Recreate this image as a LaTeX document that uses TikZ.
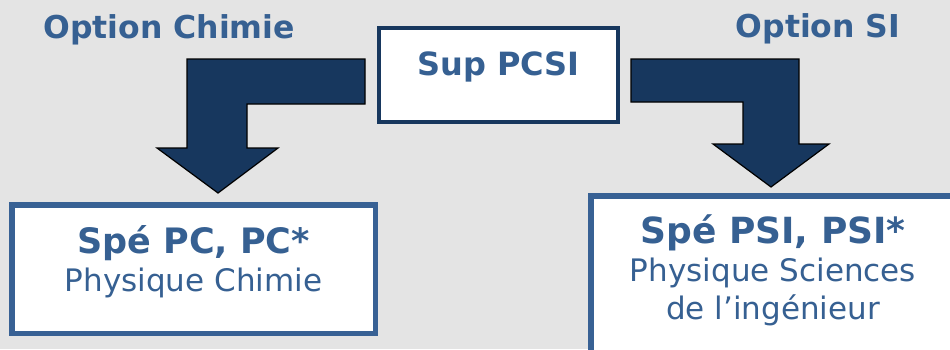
\documentclass[tikz,border=0pt]{standalone}
\usepackage{fontspec}
\setmainfont{DejaVu Sans}
\definecolor{navy}{HTML}{17375E}
\definecolor{boxblue}{HTML}{386194}
\definecolor{textblue}{HTML}{366092}
\definecolor{bggray}{HTML}{E4E4E4}
\begin{document}
\begin{tikzpicture}[x=1pt,y=-1pt]
    \tikzstyle{bigarrow} = [draw=black, line width=1.2pt, fill=navy, line join=miter]
    \tikzstyle{rec} = [rectangle, draw=boxblue, line width=5.5pt, fill=white,
        inner sep=0pt]
    \tikzstyle{txt} = [text=textblue, inner sep=0pt, align=center]

    \useasboundingbox (0,0) rectangle (950,349);
    \fill[bggray] (0,0) rectangle (950,349);

    \node(optchimie) [txt, font=\fontsize{31.5}{38}\selectfont\bfseries]
        at (169,38) [anchor=base]
        {Option Chimie};
    \node(optsi) [txt, font=\fontsize{31.5}{38}\selectfont\bfseries]
        at (818,37) [anchor=base]
        {Option SI};

    \node(pcsi) [rec, draw=navy, line width=4pt, minimum width=239pt,
        minimum height=94pt]
        at (498.5,75)
        {};
    \node(pcsitext) [txt, font=\fontsize{32}{38}\selectfont\bfseries]
        at (498.5,75) [anchor=base]
        {Sup PCSI};

    \node(pc) [rec, minimum width=363.5pt, minimum height=128.5pt]
        at (193.5,269)
        {};
    \node(pctext) [txt, font=\fontsize{31}{38}\selectfont]
        at (193.5,225.4) [anchor=north]
        {{\fontsize{35}{38}\selectfont\bfseries Spé PC, PC*}\\ Physique Chimie};

    \node(psi) [rec, minimum width=364.5pt, minimum height=161pt]
        at (773,276.4)
        {};
    \node(psitext) [txt, font=\fontsize{31}{38}\selectfont]
        at (773,214.6) [anchor=north]
        {{\fontsize{36}{38}\selectfont\bfseries Spé PSI, PSI*}\\ Physique Sciences\\
        de l’ingénieur};

    \draw[bigarrow] (365,59) -- (187,59) -- (187,148) -- (157,148) -- (218,193)
        -- (278,148) -- (247,148) -- (247,104) -- (365,104) -- cycle;
    \draw[bigarrow] (631,59) -- (799,59) -- (799,144) -- (829,144) -- (771,187)
        -- (713,144) -- (743,144) -- (743,102) -- (631,102) -- cycle;
\end{tikzpicture}
\end{document}
